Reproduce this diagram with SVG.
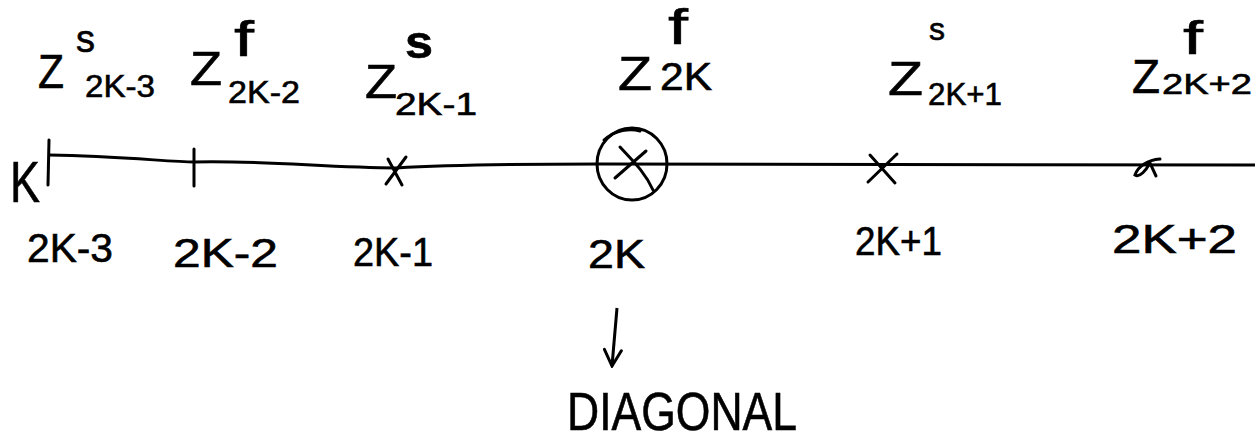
<svg xmlns="http://www.w3.org/2000/svg" width="1255" height="442" viewBox="0 0 1255 442">
<style>
text{font-family:"Liberation Sans","DejaVu Sans",sans-serif;fill:#000;stroke:#000;stroke-width:0.6;}
.mark{stroke:#000;stroke-width:3;fill:none;stroke-linecap:round;}
.axis{stroke:#000;stroke-width:3;fill:none;}
.z{font-size:48px;}
.sub{font-size:32px;}
.bot{font-size:40px;}
.f{font-size:50px;}
</style>
<defs>
<marker id="open" viewBox="0 0 20 20" refX="18" refY="10" markerWidth="20" markerHeight="20" markerUnits="userSpaceOnUse" orient="auto">
<path d="M2,2 L18,10 L2,19" stroke="#000" stroke-width="3" fill="none" stroke-linecap="round"/>
</marker>
</defs>
<rect width="1255" height="442" fill="#fff"/>
<g id="connectors">
<path class="axis" d="M49,155 C120,156 170,162 194,162 C260,160 330,168 396,168 C430,166 520,164 600,164 C800,165 1000,165 1255,165"/>
<path class="axis" d="M617,308 L612,366" marker-end="url(#open)"/>
</g>
<g id="node-2k-3">
<text x="10" y="202" font-size="58" textLength="30" lengthAdjust="spacingAndGlyphs">K</text>
<path class="mark" d="M49,140 L48,185"/>
<text class="z" x="38" y="88" textLength="26" lengthAdjust="spacingAndGlyphs">Z</text>
<text x="76" y="52" font-size="38">s</text>
<text class="sub" x="85" y="97" textLength="70" lengthAdjust="spacingAndGlyphs">2K-3</text>
<text class="bot" x="27" y="262" textLength="86" lengthAdjust="spacingAndGlyphs">2K-3</text>
</g>
<g id="node-2k-2">
<path class="mark" d="M194,149 L194,186"/>
<text class="z" x="190" y="85" textLength="32" lengthAdjust="spacingAndGlyphs">Z</text>
<text class="f" x="234" y="56" textLength="20" lengthAdjust="spacingAndGlyphs">f</text>
<text class="sub" x="228" y="103" textLength="72" lengthAdjust="spacingAndGlyphs">2K-2</text>
<text class="bot" x="173" y="267" font-size="44" textLength="105" lengthAdjust="spacingAndGlyphs">2K-2</text>
</g>
<g id="node-2k-1">
<path class="mark" d="M388,159 L402,185 M406,157 L386,184"/>
<text class="z" x="365" y="98" textLength="32" lengthAdjust="spacingAndGlyphs">Z</text>
<text x="405" y="58" font-size="46" font-weight="bold" textLength="28" lengthAdjust="spacingAndGlyphs">s</text>
<text class="sub" x="395" y="115" textLength="82" lengthAdjust="spacingAndGlyphs">2K-1</text>
<text class="bot" x="353" y="266" font-size="42" textLength="80" lengthAdjust="spacingAndGlyphs">2K-1</text>
</g>
<g id="node-2k">
<ellipse class="mark" cx="632" cy="164" rx="35" ry="36"/>
<path class="mark" d="M620,147 C632,160 645,172 653,190 M646,151 L615,178 M604,140 C615,130 630,128 640,131"/>
<text class="z" x="618" y="90" textLength="34" lengthAdjust="spacingAndGlyphs">Z</text>
<text class="f" x="668" y="44" textLength="20" lengthAdjust="spacingAndGlyphs">f</text>
<text x="660" y="90" font-size="38" textLength="52" lengthAdjust="spacingAndGlyphs">2K</text>
<text class="bot" x="588" y="268" font-size="36" textLength="57" lengthAdjust="spacingAndGlyphs">2K</text>
</g>
<g id="node-2k+1">
<path class="mark" d="M870,155 L895,183 M897,154 L868,182"/>
<text class="z" x="888" y="95" textLength="35" lengthAdjust="spacingAndGlyphs">Z</text>
<text x="929" y="40" font-size="32">s</text>
<text class="sub" x="928" y="105" textLength="74" lengthAdjust="spacingAndGlyphs">2K+1</text>
<text class="bot" x="855" y="255" textLength="87" lengthAdjust="spacingAndGlyphs">2K+1</text>
</g>
<g id="node-2k+2">
<path class="mark" d="M1160,159 C1148,160 1138,166 1135,175 C1140,178 1146,170 1150,163 L1156,176"/>
<text class="z" x="1132" y="93" textLength="28" lengthAdjust="spacingAndGlyphs">Z</text>
<text x="1183" y="54" font-size="46" textLength="20" lengthAdjust="spacingAndGlyphs">f</text>
<text x="1162" y="94" font-size="30" textLength="90" lengthAdjust="spacingAndGlyphs">2K+2</text>
<text class="bot" x="1112" y="253" font-size="38" textLength="125" lengthAdjust="spacingAndGlyphs">2K+2</text>
</g>
<g id="node-diagonal">
<text x="567" y="430" font-size="54" textLength="230" lengthAdjust="spacingAndGlyphs">DIAGONAL</text>
</g>
</svg>
